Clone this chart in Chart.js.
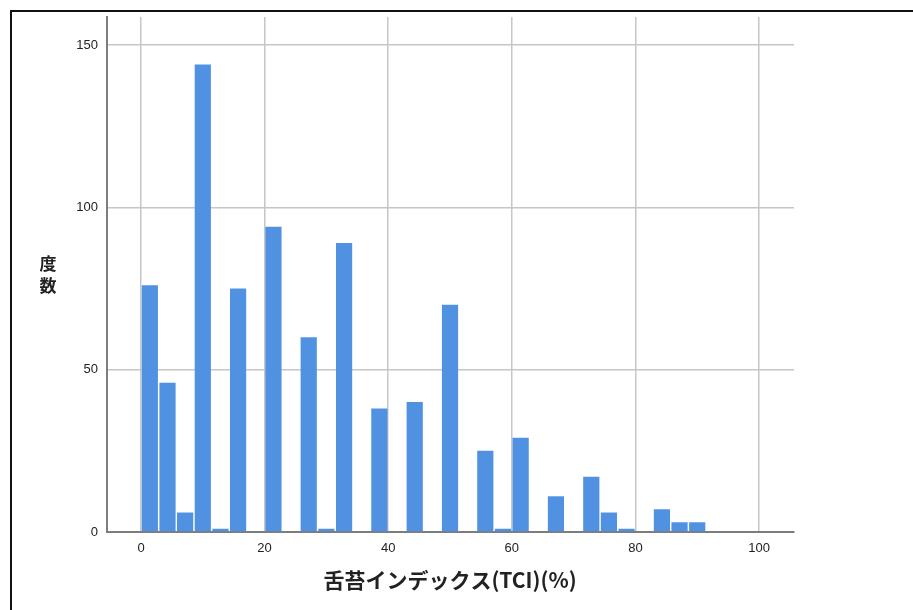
<!DOCTYPE html>
<html>
<head>
<meta charset="utf-8">
<script src="https://cdn.jsdelivr.net/npm/chart.js@4.4.1/dist/chart.umd.min.js"></script>
<style>
  html, body { margin: 0; padding: 0; background: #fff; }
  #wrap { position: relative; width: 913px; height: 610px; }
</style>
</head>
<body>
<div id="wrap"><canvas id="hist"></canvas></div>
<script>
// Histogram bins (centre of each bin, width 100/35) and counts
const binCenters = [1.43, 4.29, 7.14, 10.00, 12.86, 15.71, 18.57, 21.43, 24.29, 27.14,
                    30.00, 32.86, 35.71, 38.57, 41.43, 44.29, 47.14, 50.00, 52.86, 55.71,
                    58.57, 61.43, 64.29, 67.14, 70.00, 72.86, 75.71, 78.57, 81.43, 84.29,
                    87.14, 90.00, 92.86, 95.71, 98.57];
const counts = [76, 46, 6, 144, 1, 75, 0, 94, 0, 60,
                1, 89, 0, 38, 0, 40, 0, 70, 0, 25,
                1, 29, 0, 11, 0, 17, 6, 1, 0, 7,
                3, 3, 0, 0, 0];
const xTickValues = [0, 20, 40, 60, 80, 100];
const yTickValues = [0, 50, 100, 150];

const xTitle = '舌苔インデックス(TCI)(%)';
const yTitle = ['度', '数'];

// outer frame and axis titles
const decorations = {
    id: 'decorations',
    beforeDraw(chart) {
        const ctx = chart.ctx;
        ctx.save();
        ctx.fillStyle = '#fff';
        ctx.fillRect(0, 0, chart.width, chart.height);
        ctx.fillStyle = '#111';
        ctx.fillRect(10, 10, chart.width - 10, 2);
        ctx.fillRect(10, 10, 2, chart.height - 10);
        ctx.restore();
    },
    afterDraw(chart) {
        const ctx = chart.ctx;
        ctx.save();
        ctx.fillStyle = '#222';
        ctx.textAlign = 'center';
        ctx.textBaseline = 'middle';
        ctx.font = 'bold 21px "Noto Sans CJK JP", sans-serif';
        ctx.fillText(xTitle, 450, 580);
        ctx.font = 'bold 17px "Noto Sans CJK JP", sans-serif';
        yTitle.forEach((ch, i) => ctx.fillText(ch, 48, 264 + i * 22));
        ctx.restore();
    }
};

const ctx = document.getElementById('hist').getContext('2d');
new Chart(ctx, {
    type: 'bar',
    data: {
        datasets: [{
            data: binCenters.map((x, i) => ({ x: x, y: counts[i] })),
            backgroundColor: '#5091e2',
            borderWidth: 0,
            barPercentage: 0.92,
            categoryPercentage: 1
        }]
    },
    options: {
        responsive: true,
        maintainAspectRatio: false,
        animation: false,
        layout: { padding: { left: 0, top: 17, right: 119, bottom: 0 } },
        plugins: {
            legend: { display: false },
            tooltip: { enabled: false }
        },
        scales: {
            x: {
                type: 'linear',
                min: -5.5,
                max: 105.66,
                offset: false,
                afterBuildTicks: s => { s.ticks = xTickValues.map(v => ({ value: v })); },
                afterFit: s => { s.height = 78; },
                ticks: {
                    padding: 9,
                    color: '#222',
                    font: { family: '"Liberation Sans", Arial, sans-serif', size: 13 }
                },
                grid: { color: '#c6c6c6', lineWidth: 1.5, drawTicks: false, offset: false },
                border: { color: '#7d7d7d', width: 2 }
            },
            y: {
                min: 0,
                max: 158.6,
                afterBuildTicks: s => { s.ticks = yTickValues.map(v => ({ value: v })); },
                afterFit: s => { s.width = 107; },
                ticks: {
                    padding: 9,
                    color: '#222',
                    font: { family: '"Liberation Sans", Arial, sans-serif', size: 13 }
                },
                grid: { color: '#c6c6c6', lineWidth: 1.5, drawTicks: false },
                border: { color: '#7d7d7d', width: 2 }
            }
        }
    },
    plugins: [decorations]
});
</script>
</body>
</html>
